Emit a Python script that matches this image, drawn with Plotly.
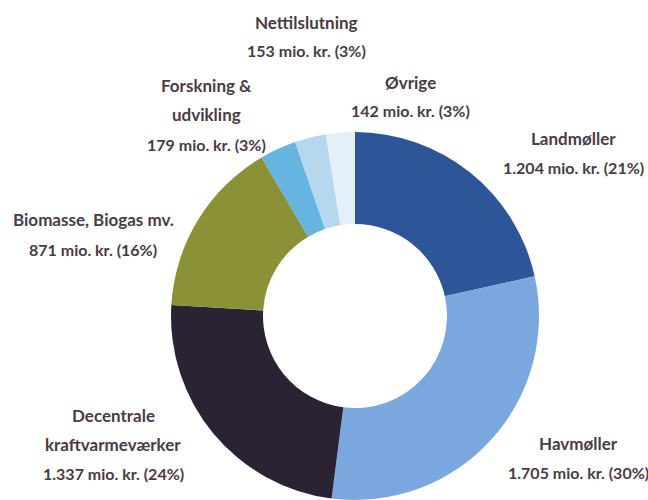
import plotly.graph_objects as go

# Data
categories = ["Landmøller", "Havmøller", "Decentrale kraftvarmeværker",
              "Biomasse, Biogas mv.", "Forskning & udvikling", "Nettilslutning", "Øvrige"]
values = [1204, 1705, 1337, 871, 179, 153, 142]
value_labels = ["1.204", "1.705", "1.337", "871", "179", "153", "142"]
percent_labels = ["21%", "30%", "24%", "16%", "3%", "3%", "3%"]
label_lines = [["Landmøller"], ["Havmøller"], ["Decentrale", "kraftvarmeværker"],
               ["Biomasse, Biogas mv."], ["Forskning &", "udvikling"], ["Nettilslutning"], ["Øvrige"]]

# Styles / layout
colors = ["#2c5697", "#7aa8de", "#2a2333", "#8a9137", "#66b4e0", "#b5d8ee", "#e4eff8"]
# (x center px, y of first line px) for each label block
label_pos = [(573, 138), (578, 443), (113, 415), (93, 220), (207, 86), (306, 22), (410, 82)]
line_gap = 29
W, H = 648, 500
text_color = "#4a3b45"

fig = go.Figure()
fig.add_trace(go.Pie(
    labels=categories, values=values, sort=False, direction="clockwise", rotation=0,
    hole=0.5, textinfo="none", hoverinfo="label+value",
    marker=dict(colors=colors, line=dict(width=0)),
    domain=dict(x=[(355 - 184) / W, (355 + 184) / W], y=[0, 368 / H]),
    showlegend=False,
))

annotations = []
for lines, v, p, (x, y) in zip(label_lines, value_labels, percent_labels, label_pos):
    all_lines = lines + [f"{v} mio. kr. ({p})"]
    for i, t in enumerate(all_lines):
        yy = y + i * line_gap
        is_value = i == len(all_lines) - 1
        annotations.append(dict(
            text=t, x=x / W, y=1 - yy / H, xref="paper", yref="paper",
            xanchor="center", yanchor="middle", showarrow=False,
            font=dict(family="Lato", size=16 if is_value else 17, color=text_color, weight="bold"),
        ))

fig.update_layout(
    width=W, height=H, margin=dict(l=0, r=0, t=0, b=0),
    paper_bgcolor="white", plot_bgcolor="white",
    annotations=annotations,
)
fig.write_html("out.html", config={"displayModeBar": False},
               post_script="document.body.style.margin='0';document.body.style.overflow='hidden';")
